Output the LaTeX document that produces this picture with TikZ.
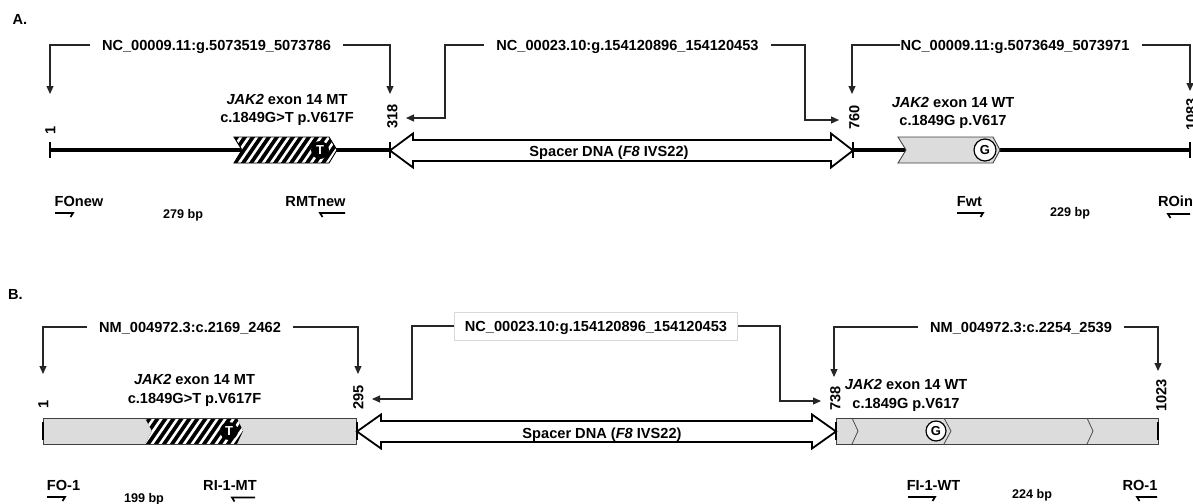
\documentclass[tikz,border=0pt]{standalone}
\usepackage{fontspec}
\setmainfont{Liberation Sans}
\usetikzlibrary{arrows.meta}
\definecolor{exg}{RGB}{220,220,220}
\begin{document}
\begin{tikzpicture}[x=1pt,y=-1pt]
\tikzset{
 every node/.style={inner sep=0pt},
 txt/.style={font=\bfseries\fontsize{14.6}{18.5}\selectfont},
 one/.style={txt, text height=10.5pt, text depth=0pt},
 brl/.style={one, inner xsep=12pt},
 numl/.style={one, rotate=90, anchor=west},
 bpl/.style={font=\bfseries\fontsize{12.6}{15}\selectfont, text height=9pt, text depth=0pt},
 brk/.style={draw=black!85, line width=1.1pt, -{Triangle[length=8pt,width=7pt]}},
 base/.style={line width=3.5pt},
 tickl/.style={line width=1.5pt},
 spacer/.style={draw, fill=white, line width=1.8pt, line join=miter},
 exongray/.style={draw=black!75, fill=exg, line width=0.9pt},
 outl/.style={draw=black!75, line width=0.9pt},
 chev/.style={draw=black!70, line width=0.8pt},
 primer/.style={line width=1.7pt},
 mut/.style={circle, fill=black, text=white, minimum size=18pt, font=\bfseries\fontsize{13}{13}\selectfont},
 wt/.style={circle, draw, fill=white, line width=1.2pt, font=\bfseries\fontsize{13}{13}\selectfont},
 hatchl/.style={white, line width=2.6pt}
}
\useasboundingbox (0,0) rectangle (1193,503);

% ---------------- Panel A ----------------
\node[txt] (labA) at (20,19) {A.};

\coordinate (p1) at (50,150);
\coordinate (p318) at (390,150);
\coordinate (p760) at (853,150);
\coordinate (p1083) at (1190,150);

\draw[base] (p1) -- (p318);
\draw[base] (p760) -- (p1083);
\foreach \c in {p1,p318,p760,p1083} \draw[tickl] ([yshift=8pt]\c) -- ([yshift=-8pt]\c);

% hatched MT exon
\begin{scope}
\clip (234,137) -- (329,137) -- (337,150) -- (329,163) -- (234,163) -- (242,150) -- cycle;
\fill[black] (230,130) rectangle (340,170);
\foreach \x in {205,213,...,340} \draw[hatchl] (\x,166) -- (\x+22,134);
\end{scope}
\draw[line width=0.9pt] (234,137) -- (329,137) -- (337,150) -- (329,163) -- (234,163) -- (242,150) -- cycle;
\node[mut] (mtA) at (320,150) {T};

% WT exon
\draw[exongray] (898,137) -- (993,137) -- (1000,150) -- (993,163) -- (898,163) -- (906,150) -- cycle;
\node[wt, minimum size=22pt] (wtA) at (985,150) {G};

% spacer
\draw[spacer] (390,150.5) -- (413,133.5) -- (413,140) -- (831,140) -- (831,133.5) -- (853,150.5) -- (831,167.5) -- (831,161) -- (413,161) -- (413,167.5) -- cycle;
\node[one] (spA) at (609,151) {Spacer DNA (\textit{F8} IVS22)};

% exon labels
\node[txt, align=center] (mtlabA) at (287,110) {\textit{JAK2} exon 14 MT\\c.1849G>T p.V617F};
\node[txt, align=center] (wtlabA) at (953,113) {\textit{JAK2} exon 14 WT\\c.1849G p.V617};

% positions
\node[numl] (n1A) at (50,135) {1};
\node[numl] (n318) at (392,129) {318};
\node[numl] (n760) at (854,130) {760};
\node[numl] (n1083) at (1191,131) {1083};

% brackets
\node[brl] (lA1) at (216.5,45) {NC\_00009.11:g.5073519\_5073786};
\coordinate (tA1l) at (50,94);
\coordinate (tA1r) at (390,94);
\draw[brk] (lA1.west) -| (tA1l);
\draw[brk] (lA1.east) -| (tA1r);

\node[brl] (lA2) at (627.5,45) {NC\_00023.10:g.154120896\_154120453};
\coordinate (kA2l) at (445,118);
\coordinate (tA2l) at (406,118);
\coordinate (kA2r) at (805,120);
\coordinate (tA2r) at (839,120);
\draw[brk] (lA2.west) -| (kA2l) -- (tA2l);
\draw[brk] (lA2.east) -| (kA2r) -- (tA2r);

\node[brl] (lA3) at (1015,45) {NC\_00009.11:g.5073649\_5073971};
\coordinate (tA3l) at (852,94);
\coordinate (tA3r) at (1190,91);
\draw[brk] ([xshift=12pt]lA3.west) -| (tA3l);
\draw[brk] (lA3.east) -| (tA3r);

% primers
\node[one] (FOnew) at (79,201) {FOnew};
\draw[primer] (55,213) -- (73,213) -- (70.5,217);
\node[bpl] (bpA1) at (183,214) {279 bp};
\node[one] (RMTnew) at (315.5,201) {RMTnew};
\draw[primer] (345,213) -- (320,213) -- (322.5,217);
\node[one] (Fwt) at (969.5,201) {Fwt};
\draw[primer] (957,213) -- (983,213) -- (980.5,217);
\node[bpl] (bpA2) at (1070,212) {229 bp};
\node[one] (ROin) at (1175.5,201) {ROin};
\draw[primer] (1190,214) -- (1168,214) -- (1170.5,218);

% ---------------- Panel B ----------------
\node[txt] (labB) at (15.5,294) {B.};

\coordinate (q1) at (43,431);
\coordinate (q295) at (357,431);
\coordinate (q738) at (836,431);
\coordinate (q1023) at (1158,431);

\draw[exongray] (43,418) rectangle (356,444);
\begin{scope}
\clip (145,418) -- (237,418) -- (243,431) -- (237,444) -- (145,444) -- (152,431) -- cycle;
\fill[black] (140,410) rectangle (250,450);
\foreach \x in {118,126,...,250} \draw[hatchl] (\x,447) -- (\x+22,415);
\end{scope}
\draw[outl] (43,418) rectangle (356,444);
\node[mut] (mtB) at (229,431) {T};

\draw[exongray] (836,418) rectangle (1158,444);
\draw[chev] (852,418) -- (858,431) -- (852,444);
\draw[chev] (944,418) -- (951,431) -- (944,444);
\draw[chev] (1087,418) -- (1093,431) -- (1087,444);
\node[wt, minimum size=20pt] (wtB) at (936,431) {G};

\foreach \c in {q1,q295,q738,q1023} \draw[line width=2pt] ([yshift=9pt]\c) -- ([yshift=-9pt]\c);

\draw[spacer] (357,431.5) -- (381,414.5) -- (381,421) -- (812,421) -- (812,414.5) -- (836,431.5) -- (812,448.5) -- (812,442) -- (381,442) -- (381,448.5) -- cycle;
\node[one] (spB) at (602,433) {Spacer DNA (\textit{F8} IVS22)};

\node[txt, align=center] (mtlabB) at (194.5,390.5) {\textit{JAK2} exon 14 MT\\c.1849G>T p.V617F};
\node[txt, align=center] (wtlabB) at (906,395.5) {\textit{JAK2} exon 14 WT\\c.1849G p.V617};

\node[numl] (n1B) at (43,409) {1};
\node[numl] (n295) at (358,410) {295};
\node[numl] (n738) at (835,411) {738};
\node[numl] (n1023) at (1161,412) {1023};

\node[brl] (lB1) at (190,327) {NM\_004972.3:c.2169\_2462};
\coordinate (tB1l) at (43,374);
\coordinate (tB1r) at (358,374);
\draw[brk] (lB1.west) -| (tB1l);
\draw[brk] (lB1.east) -| (tB1r);

\node[one, draw=black!15, fill=white, line width=0.8pt, inner xsep=10.5pt, inner ysep=8.7pt] (lB2) at (596,326) {NC\_00023.10:g.154120896\_154120453};
\coordinate (kB2l) at (412,399);
\coordinate (tB2l) at (372,399);
\coordinate (kB2r) at (780,401);
\coordinate (tB2r) at (821,401);
\draw[brk] (lB2.west) -| (kB2l) -- (tB2l);
\draw[brk] (lB2.east) -| (kB2r) -- (tB2r);

\node[brl] (lB3) at (1021,327) {NM\_004972.3:c.2254\_2539};
\coordinate (tB3l) at (834,377);
\coordinate (tB3r) at (1158,371);
\draw[brk] (lB3.west) -| (tB3l);
\draw[brk] (lB3.east) -| (tB3r);

\node[one] (FO1) at (63.5,485) {FO-1};
\draw[primer] (47,497) -- (65,497) -- (62.5,501);
\node[bpl] (bpB1) at (144,498) {199 bp};
\node[one] (RI1MT) at (230,485) {RI-1-MT};
\draw[primer] (255,497.5) -- (232,497.5) -- (234.5,501.5);
\node[one] (FI1WT) at (933.5,485) {FI-1-WT};
\draw[primer] (908,497) -- (935,497) -- (932.5,501);
\node[bpl] (bpB2) at (1032,494) {224 bp};
\node[one] (RO1) at (1140,485) {RO-1};
\draw[primer] (1157,497) -- (1137,497) -- (1139.5,501);
\end{tikzpicture}
\end{document}
